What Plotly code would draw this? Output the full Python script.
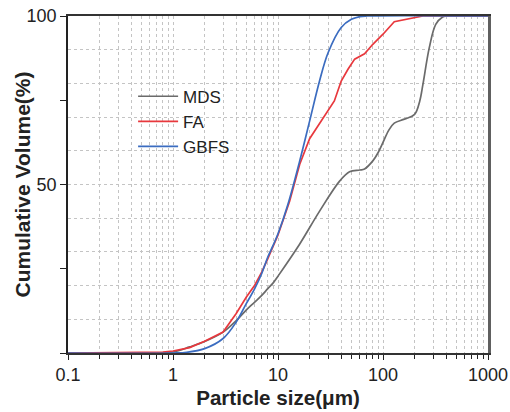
import plotly.graph_objects as go

# ---- data ----
mds_x = [0.1, 0.5, 1.0, 1.44, 2, 3, 4, 5, 6, 7, 8, 9, 10, 16, 24.9, 38.6, 48, 60, 66.7,
         80, 90, 100, 113, 128, 160, 200, 224, 240, 276, 318, 370, 400, 1000]
mds_y = [0, 0, 0.3, 1.8, 3.4, 6.2, 9.6, 12.8, 15.1, 17.1, 19.1, 20.8, 22.8, 32.2, 42.1,
         51, 53.8, 54.3, 54.6, 57, 59.5, 62.5, 66, 68.2, 69.4, 70.8, 74.8, 79.7, 90.6, 97.5,
         99.7, 100, 100]

fa_x = [0.1, 0.5, 0.8, 1.0, 1.44, 2, 3, 4, 5, 6, 7, 8, 9, 10, 12.9, 16.1, 20, 30, 34.4, 40,
        46.4, 53.7, 66.7, 80, 100, 128, 200, 240, 1000]
fa_y = [0, 0.1, 0.3, 0.6, 1.6, 3.5, 6.2, 11.7, 16.6, 20.1, 24, 28, 31.5, 35, 45, 56, 63.6,
        71.8, 74.8, 80.7, 84.2, 87.2, 88.8, 91.6, 94.6, 98.3, 99.5, 100, 100]

gbfs_x = [0.1, 1.0, 1.35, 2, 3, 4, 5, 6, 7, 8, 9, 10, 12.4, 16.1, 20, 24.9, 30, 40, 50, 60, 70, 1000]
gbfs_y = [0, 0, 0.2, 1.3, 4.3, 9.2, 14.7, 19.1, 23.6, 28.5, 32, 35.4, 44, 57, 68.8, 80.8,
          89.1, 96.6, 99, 99.8, 100, 100]

x_major = [0.1, 1, 10, 100, 1000]
x_major_text = ["0.1", "1", "10", "100", "1000"]
x_minor = [m * d for d in (0.1, 1, 10, 100) for m in range(2, 10)]
y_ticks = [0, 25, 50, 75, 100]
y_tick_text = ["", "", "50", "", "100"]
y_grid = [10, 20, 30, 40, 50, 60, 70, 80, 90]

FONT = "Liberation Sans, Arial, Helvetica, sans-serif"
GRID = "#c4c4c4"
INK = "#222222"

fig = go.Figure()
fig.add_trace(go.Scatter(x=mds_x, y=mds_y, name="MDS", mode="lines",
                         line=dict(color="#6b6b6b", width=1.7, shape="spline", smoothing=1.0)))
fig.add_trace(go.Scatter(x=fa_x, y=fa_y, name="FA", mode="lines",
                         line=dict(color="#e8383d", width=1.7, shape="linear")))
fig.add_trace(go.Scatter(x=gbfs_x, y=gbfs_y, name="GBFS", mode="lines",
                         line=dict(color="#3b6cc0", width=1.7, shape="spline", smoothing=1.0)))
# empty helper trace so the right-hand grid axis is drawn
fig.add_trace(go.Scatter(x=[None], y=[None], yaxis="y2", showlegend=False, hoverinfo="skip"))

fig.update_layout(
    width=510, height=412,
    margin=dict(l=68, r=22, t=16, b=59, autoexpand=False),
    paper_bgcolor="white", plot_bgcolor="white",
    font=dict(family=FONT, color=INK),
    showlegend=True,
    legend=dict(x=0.155, y=0.814, xanchor="left", yanchor="top",
                bgcolor="rgba(0,0,0,0)", font=dict(size=17, color=INK),
                itemwidth=40, tracegroupgap=0),
    xaxis=dict(
        type="log", range=[-1, 3], automargin=False,
        tickmode="array", tickvals=x_major, ticktext=x_major_text,
        ticks="outside", ticklen=5, tickwidth=1, tickcolor=INK,
        tickfont=dict(size=18, color=INK),
        showline=True, linecolor="#333333", linewidth=1.5, mirror=True,
        showgrid=True, gridcolor=GRID, griddash="dot", gridwidth=1,
        zeroline=False,
        minor=dict(tickmode="array", tickvals=x_minor, ticks="outside", ticklen=4,
                   tickcolor=INK, tickwidth=1,
                   showgrid=True, gridcolor=GRID, griddash="dot", gridwidth=1),
        title=dict(text="<b>Particle size(μm)</b>", font=dict(size=20.6, color=INK), standoff=6),
    ),
    yaxis=dict(
        range=[0, 100], automargin=False,
        tickmode="array", tickvals=y_ticks, ticktext=y_tick_text,
        ticks="outside", ticklen=6, tickwidth=1, tickcolor=INK,
        tickfont=dict(size=18, color=INK),
        showline=True, linecolor="#222222", linewidth=1.5,
        showgrid=False, zeroline=False,
    ),
    yaxis2=dict(
        overlaying="y", side="right", range=[0, 100], automargin=False,
        tickmode="array", tickvals=y_grid, showticklabels=False, ticks="",
        showgrid=True, gridcolor=GRID, griddash="dot", gridwidth=1,
        showline=True, linecolor="#606060", linewidth=2.5, zeroline=False,
    ),
    annotations=[dict(
        text="<b>Cumulative Volume(%)</b>", textangle=-90,
        xref="paper", yref="paper", x=-0.1095, y=0.5,
        xanchor="center", yanchor="middle", showarrow=False,
        font=dict(size=21, color=INK, family=FONT),
    )],
)

fig.write_html("out.html")
